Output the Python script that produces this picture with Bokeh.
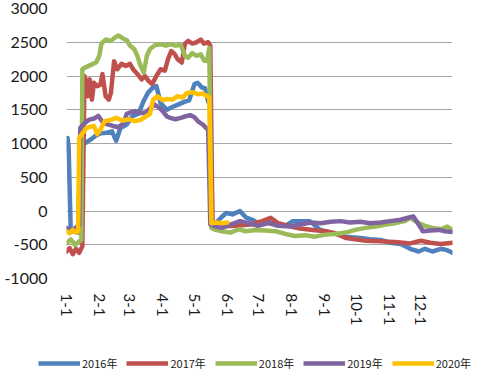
import math
from bokeh.plotting import figure
from bokeh.layouts import column
from bokeh.models import Legend, LegendItem, FixedTicker, Range1d
from bokeh.embed import file_html
from bokeh.resources import INLINE

# ---- data (day of year, value) ----
month_days = [0, 31, 60, 91, 121, 152, 182, 213, 244, 274, 305, 335]
month_labels = ["1-1", "2-1", "3-1", "4-1", "5-1", "6-1", "7-1", "8-1", "9-1", "10-1", "11-1", "12-1"]
y_ticks = [-1000, -500, 0, 500, 1000, 1500, 2000, 2500, 3000]
y_labels = ["-1000", "-500", "0", "500", "1000", "1500", "2000", "2500", "3000"]

days_2016 = [0, 1, 2, 4, 8, 11, 13, 17, 23, 28, 32, 38, 43, 47, 51, 57, 62, 68, 73, 77, 81, 85, 89, 95, 100, 106,
             112, 116, 121, 124, 128, 131, 134, 136, 138, 140, 146, 151, 157, 164, 170, 176, 181, 189, 198, 207, 214,
             230, 240, 250, 264, 278, 287, 297, 306, 316, 325, 333, 339, 346, 354, 360, 365]
vals_2016 = [900, 1080, 950, -300, -300, -320, 950, 1000, 1060, 1120, 1150, 1160, 1180, 1040, 1230, 1280, 1400, 1440,
             1630, 1750, 1820, 1850, 1600, 1500, 1540, 1580, 1620, 1640, 1880, 1900, 1830, 1820, 1620, 1600, -250,
             -200, -100, -30, -50, 0, -100, -130, -180, -150, -200, -220, -150, -150, -280, -320, -380, -400, -420,
             -430, -470, -490, -560, -600, -560, -600, -560, -580, -620]

days_2017 = [0, 3, 6, 9, 12, 15, 17, 18, 20, 22, 24, 26, 29, 32, 34, 37, 40, 42, 45, 48, 52, 56, 60, 63, 67, 71, 74,
             78, 81, 85, 89, 93, 96, 99, 102, 105, 109, 112, 115, 119, 123, 127, 130, 134, 136, 138, 146, 160, 174,
             185, 193, 200, 212, 221, 233, 245, 254, 264, 273, 283, 297, 311, 325, 335, 344, 354, 365]
vals_2017 = [-600, -550, -640, -560, -620, -520, 2000, 1950, 1700, 1950, 1650, 1900, 1850, 1870, 2030, 1700, 1650,
             1750, 2220, 2100, 2180, 2150, 2180, 2100, 2030, 1950, 2000, 1920, 1880, 2000, 2100, 2080, 2250, 2370,
             2330, 2250, 2200, 2480, 2520, 2480, 2500, 2540, 2480, 2500, 2450, -200, -230, -220, -200, -150, -100,
             -180, -230, -260, -280, -300, -330, -400, -420, -440, -450, -460, -480, -440, -470, -490, -470]

days_2018 = [0, 4, 8, 12, 14, 15, 17, 21, 25, 28, 31, 33, 37, 42, 45, 49, 53, 57, 60, 64, 67, 70, 73, 76, 79, 84, 89,
             94, 98, 103, 108, 112, 115, 119, 123, 127, 130, 133, 135, 137, 141, 147, 155, 163, 169, 179, 188, 198,
             207, 216, 226, 235, 245, 254, 264, 273, 283, 292, 302, 311, 320, 325, 333, 339, 346, 354, 360, 365]
vals_2018 = [-480, -420, -500, -450, -430, 2100, 2120, 2150, 2180, 2200, 2300, 2480, 2540, 2520, 2560, 2600, 2560,
             2530, 2450, 2400, 2300, 2150, 2050, 2300, 2400, 2460, 2470, 2450, 2470, 2450, 2460, 2300, 2270, 2340,
             2300, 2320, 2230, 2220, 2420, -250, -280, -300, -320, -270, -300, -280, -290, -300, -340, -370, -360,
             -380, -350, -340, -320, -280, -250, -230, -200, -180, -150, -100, -180, -220, -250, -270, -230, -280]

days_2019 = [0, 5, 10, 12, 13, 17, 21, 26, 30, 35, 40, 44, 49, 54, 57, 60, 65, 70, 75, 79, 83, 87, 91, 95, 98, 103,
             108, 112, 117, 121, 125, 129, 132, 134, 136, 141, 147, 155, 164, 172, 181, 191, 200, 212, 221, 231, 240,
             250, 259, 268, 278, 287, 297, 306, 316, 323, 328, 333, 337, 344, 352, 358, 365]
vals_2019 = [-250, -300, -230, -220, 1230, 1300, 1350, 1370, 1410, 1300, 1280, 1260, 1240, 1300, 1440, 1460, 1480,
             1450, 1460, 1520, 1580, 1540, 1480, 1400, 1380, 1360, 1380, 1400, 1420, 1390, 1320, 1280, 1230, 1200,
             -200, -230, -250, -200, -150, -180, -220, -180, -220, -230, -200, -170, -180, -160, -150, -170, -160,
             -180, -170, -150, -130, -100, -80, -200, -300, -290, -280, -300, -310]

days_2020 = [0, 3, 6, 9, 11, 12, 15, 19, 23, 26, 29, 32, 36, 42, 47, 53, 59, 64, 70, 75, 79, 82, 86, 91, 95, 100,
             105, 110, 114, 119, 124, 129, 133, 135, 137, 142, 147, 152]
vals_2020 = [-300, -330, -280, -320, -300, 1080, 1150, 1230, 1250, 1260, 1140, 1200, 1330, 1350, 1380, 1340, 1360,
             1330, 1350, 1400, 1440, 1650, 1700, 1640, 1660, 1650, 1700, 1680, 1750, 1760, 1730, 1740, 1700, 1680,
             -180, -170, -180, -170]

series = [
    ("2016年", days_2016, vals_2016, "#4F81BD"),
    ("2017年", days_2017, vals_2017, "#C0504D"),
    ("2018年", days_2018, vals_2018, "#9BBB59"),
    ("2019年", days_2019, vals_2019, "#8064A2"),
    ("2020年", days_2020, vals_2020, "#FFC000"),
]

LW = 4.5

p = figure(width=481, height=335, output_backend="svg", toolbar_location=None,
           x_range=Range1d(0, 365), y_range=Range1d(-1000, 3000),
           min_border_left=66, min_border_right=29, min_border_top=8, min_border_bottom=57)
p.outline_line_color = None
p.background_fill_color = "white"
p.border_fill_color = "white"

for name, xs, ys, col in series:
    p.line(xs, ys, line_color=col, line_width=LW, line_join="round", line_cap="round")

tick_font = "Lato"
p.yaxis.ticker = FixedTicker(ticks=y_ticks)
p.yaxis.major_label_overrides = {t: l for t, l in zip(y_ticks, y_labels)}
p.yaxis.axis_line_color = None
p.yaxis.major_tick_line_color = None
p.yaxis.minor_tick_line_color = None
p.yaxis.major_tick_out = 0
p.yaxis.major_tick_in = 0
p.yaxis.minor_tick_out = 0
p.yaxis.major_label_standoff = 19
p.yaxis.major_label_text_font = tick_font
p.yaxis.major_label_text_font_size = "16px"
p.yaxis.major_label_text_color = "#1a1a1a"

p.xaxis.ticker = FixedTicker(ticks=month_days)
p.xaxis.major_label_overrides = {d: l for d, l in zip(month_days, month_labels)}
p.xaxis.axis_line_color = None
p.xaxis.major_tick_line_color = None
p.xaxis.minor_tick_line_color = None
p.xaxis.major_tick_out = 0
p.xaxis.major_tick_in = 0
p.xaxis.minor_tick_out = 0
p.xaxis.major_label_orientation = -math.pi / 2
p.xaxis.major_label_standoff = 15
p.xaxis.major_label_text_font = tick_font
p.xaxis.major_label_text_font_size = "15px"
p.xaxis.major_label_text_color = "#1a1a1a"

p.xgrid.grid_line_color = None
p.ygrid.ticker = FixedTicker(ticks=y_ticks)
p.ygrid.grid_line_color = "#a6a6a6"
p.ygrid.grid_line_width = 1

# legend strip below the chart (same series drawn outside its visible range, only feeding the legend)
q = figure(width=481, height=41, output_backend="svg", toolbar_location=None,
           x_axis_location=None, y_axis_location=None,
           x_range=Range1d(0, 365), y_range=Range1d(100000, 100001),
           min_border=0, min_border_left=0, min_border_right=0, min_border_top=0, min_border_bottom=0)
q.frame_align = False
q.grid.grid_line_color = None
q.outline_line_color = None
q.border_fill_color = "white"
q.background_fill_color = "white"
items = []
for name, xs, ys, col in series:
    r = q.line(xs, ys, line_color=col, line_width=LW)
    items.append(LegendItem(label=name, renderers=[r]))
legend = Legend(items=items, orientation="horizontal", location=(38, 5),
                glyph_width=42, glyph_height=14, label_standoff=2, spacing=9, padding=0, margin=0,
                label_text_font="Noto Sans CJK SC", label_text_font_size="11px",
                label_text_color="#1a1a1a", border_line_color=None, background_fill_alpha=0)
q.add_layout(legend, "center")

layout = column(p, q, spacing=0)
open("out.html", "w").write(file_html(layout, INLINE))
